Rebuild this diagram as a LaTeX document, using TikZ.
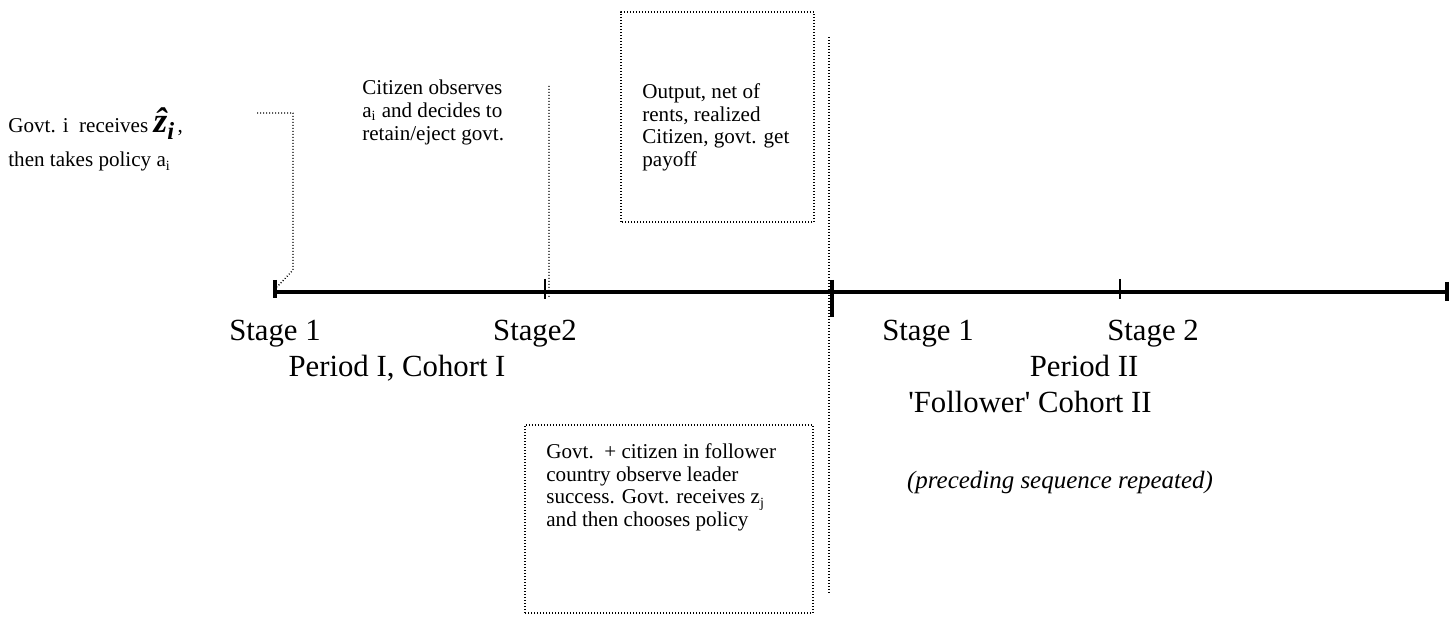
\documentclass[tikz,border=0pt]{standalone}
\usepackage{fontspec}
\setmainfont{Liberation Serif}
\newcommand{\smalltxt}{\fontsize{12}{13}\selectfont}
\newcommand{\bigtxt}{\fontsize{17.5}{20}\selectfont}
\tikzset{
  axis/.style={line width=2.2pt},
  heavytick/.style={line width=2.2pt, line cap=butt},
  lighttick/.style={line width=0.6pt, line cap=butt},
  guide/.style={dash pattern=on 0.569pt off 1.138pt, line width=0.75pt, line cap=butt},
  note/.style={font=\smalltxt, align=left, inner sep=0pt},
  stagelbl/.style={font=\bigtxt, inner sep=0pt, anchor=base}
}
\begin{document}
\begin{tikzpicture}[line join=round, line cap=round]
                \def\ty{6.52}
                \useasboundingbox (0,0) rectangle (29.1,12.36);
                % time line
                \coordinate (s1) at (5.50,\ty);
                \coordinate (s2) at (10.90,\ty);
                \coordinate (mid) at (16.64,\ty);
                \coordinate (t2) at (22.40,\ty);
                \coordinate (e) at (28.94,\ty);
                \draw[axis] (s1)--(e);
                \draw[heavytick] ([yshift=.24cm]s1)--([yshift=-.12cm]s1);
                \draw[lighttick] ([yshift=.26cm]s2)--([yshift=-.14cm]s2);
                \draw[heavytick] ([yshift=.24cm]mid)--([yshift=-.50cm]mid);
                \draw[lighttick] ([yshift=.26cm]t2)--([yshift=-.14cm]t2);
                \draw[heavytick] ([yshift=.20cm]e)--([yshift=-.18cm]e);
                % labels under the line
                \node[stagelbl] (st1) at (5.50,5.54) {Stage 1};
                \node[stagelbl] (st2) at (10.70,5.54) {Stage2};
                \node[stagelbl] (per1) at (7.94,4.82) {Period I, Cohort I};
                \node[stagelbl] (st1b) at (18.56,5.54) {Stage 1};
                \node[stagelbl] (st2b) at (23.06,5.54) {Stage 2};
                \node[stagelbl] (per2) at (21.68,4.82) {Period II};
                \node[stagelbl] (coh2) at (20.60,4.10) {\textquotesingle Follower\textquotesingle{} Cohort II};
                \node[stagelbl, font=\fontsize{14.2}{16}\selectfont\itshape] (rep) at (21.20,2.58) {(preceding sequence repeated)};
                % notes
                \node[note, anchor=base west] (gov1) at (0.16,9.70) {Govt. i\ \ receives {\fontsize{20}{20}\selectfont\bfseries\itshape \^{z}\raisebox{-.4ex}{\fontsize{14}{14}\selectfont i}}\,,};
                \node[note, anchor=base west] (gov2) at (0.16,9.02) {then takes policy a\textsubscript{i}};
                \node[note, anchor=north west] (cit) at (7.24,10.76) {Citizen observes\\a\textsubscript{i} and decides to\\retain/eject govt.};
                \node[note, anchor=north west] (out) at (12.84,10.70) {Output, net of\\rents, realized\\Citizen, govt. get\\payoff};
                \node[note, anchor=north west] (fol) at (10.92,3.50) {Govt.\ \ + citizen in follower\\country observe leader\\success. Govt. receives z\textsubscript{j}\\and then chooses policy};
                % dotted guides and boxes
                \coordinate (g0) at (5.14,10.10);
                \draw[guide] (g0)--(5.86,10.10)--(5.86,6.96)--([shift={(.04,.10)}]s1);
                \draw[guide] (10.98,10.64)--([xshift=.08cm,yshift=-.10cm]s2);
                \draw[guide] (16.58,11.62)--(16.58,0.50);
                \draw[guide] (12.42,7.92) rectangle (16.28,12.12);
                \draw[guide] (10.50,0.10) rectangle (16.26,3.86);
            \end{tikzpicture}
\end{document}
